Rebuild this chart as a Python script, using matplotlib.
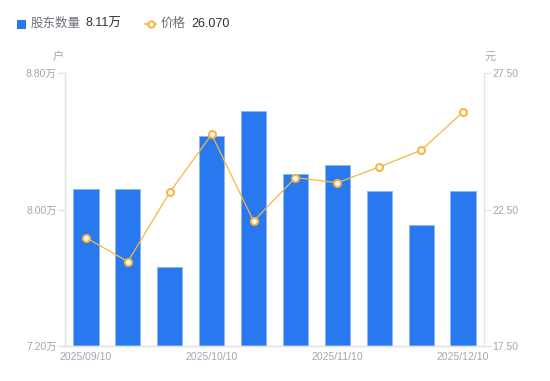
import matplotlib
matplotlib.use("Agg")
import matplotlib.pyplot as plt

plt.rcParams['font.family'] = ['Liberation Sans', 'Noto Sans CJK SC', 'DejaVu Sans']

dates = ["2025/09/10", "2025/09/19", "2025/09/30", "2025/10/10", "2025/10/20",
         "2025/10/31", "2025/11/10", "2025/11/20", "2025/11/28", "2025/12/10"]
holders = [8.118, 8.122, 7.665, 8.431, 8.579, 8.206, 8.261, 8.108, 7.909, 8.11]  # 万户
price = [21.47, 20.59, 23.13, 25.25, 22.07, 23.67, 23.48, 24.06, 24.67, 26.07]  # 元
left_ticks = [7.20, 8.00, 8.80]
right_ticks = [17.50, 22.50, 27.50]
shown_idx = [0, 3, 6, 9]

BLUE = '#2878F0'
ORANGE = '#F7B546'
GRAY_TXT = '#A3A5B3'
AXIS = '#E3E4E8'

fig = plt.figure(figsize=(5.5, 3.81), dpi=100)
ax = fig.add_axes([65/550, 35/381, (484-65)/550, (346-73)/381])
x = list(range(len(dates)))
ax.bar(x, [h - left_ticks[0] for h in holders], bottom=left_ticks[0], width=0.6,
       color=BLUE, edgecolor='#8DB6F7', linewidth=0.6, zorder=2)
ax.set_xlim(-0.5, 9.5)
ax.set_ylim(left_ticks[0], left_ticks[-1])
ax.set_yticks(left_ticks)
ax.set_yticklabels([f"{v:.2f}万" for v in left_ticks])
ax.set_xticks([x[i] for i in shown_idx])
ax.set_xticklabels([dates[i] for i in shown_idx])

ax2 = ax.twinx()
ax2.plot(x, price, color=ORANGE, linewidth=0.9, marker='o', markersize=5,
         markerfacecolor='white', markeredgecolor=ORANGE, markeredgewidth=1.5, zorder=3)
ax2.set_ylim(right_ticks[0], right_ticks[-1])
ax2.set_yticks(right_ticks)
ax2.set_yticklabels([f"{v:.2f}" for v in right_ticks])

for a in (ax, ax2):
    a.spines['top'].set_visible(False)
    for s in ['left', 'right', 'bottom']:
        a.spines[s].set_color(AXIS)
        a.spines[s].set_linewidth(1.0)
    a.tick_params(axis='y', colors=AXIS, labelcolor=GRAY_TXT, labelsize=7.5, length=5, width=1.0, pad=1)
ax.tick_params(axis='x', length=0, labelcolor=GRAY_TXT, labelsize=7.5, pad=4)
ax2.spines['left'].set_visible(False)
ax.spines['right'].set_visible(False)

fig.text(58/550, 1 - 57/381, "户", color=GRAY_TXT, fontsize=8, ha='center', va='center')
fig.text(490/550, 1 - 57/381, "元", color=GRAY_TXT, fontsize=8, ha='center', va='center')

# legend
fig.patches.append(plt.Rectangle((17/550, 1 - 28.5/381), 9/550, 9/381, transform=fig.transFigure,
                                 facecolor=BLUE, edgecolor='none'))
fig.text(31/550, 1 - 24/381, "股东数量", color='#6E7079', fontsize=9, va='center')
fig.text(85/550, 1 - 24/381, f"{holders[-1]:.2f}万", color='#333333', fontsize=9, va='center')
fig.lines.append(plt.Line2D([145/550, 156/550], [1 - 24/381, 1 - 24/381], transform=fig.transFigure,
                            color=ORANGE, linewidth=1.2))
fig.lines.append(plt.Line2D([150.5/550], [1 - 24/381], transform=fig.transFigure, marker='o',
                            markersize=4.5, markerfacecolor='white', markeredgecolor=ORANGE,
                            markeredgewidth=1.5))
fig.text(161/550, 1 - 24/381, "价格", color='#6E7079', fontsize=9, va='center')
fig.text(191/550, 1 - 24/381, f"{price[-1]:.3f}", color='#333333', fontsize=9, va='center')

fig.savefig("out.png", dpi=100)
